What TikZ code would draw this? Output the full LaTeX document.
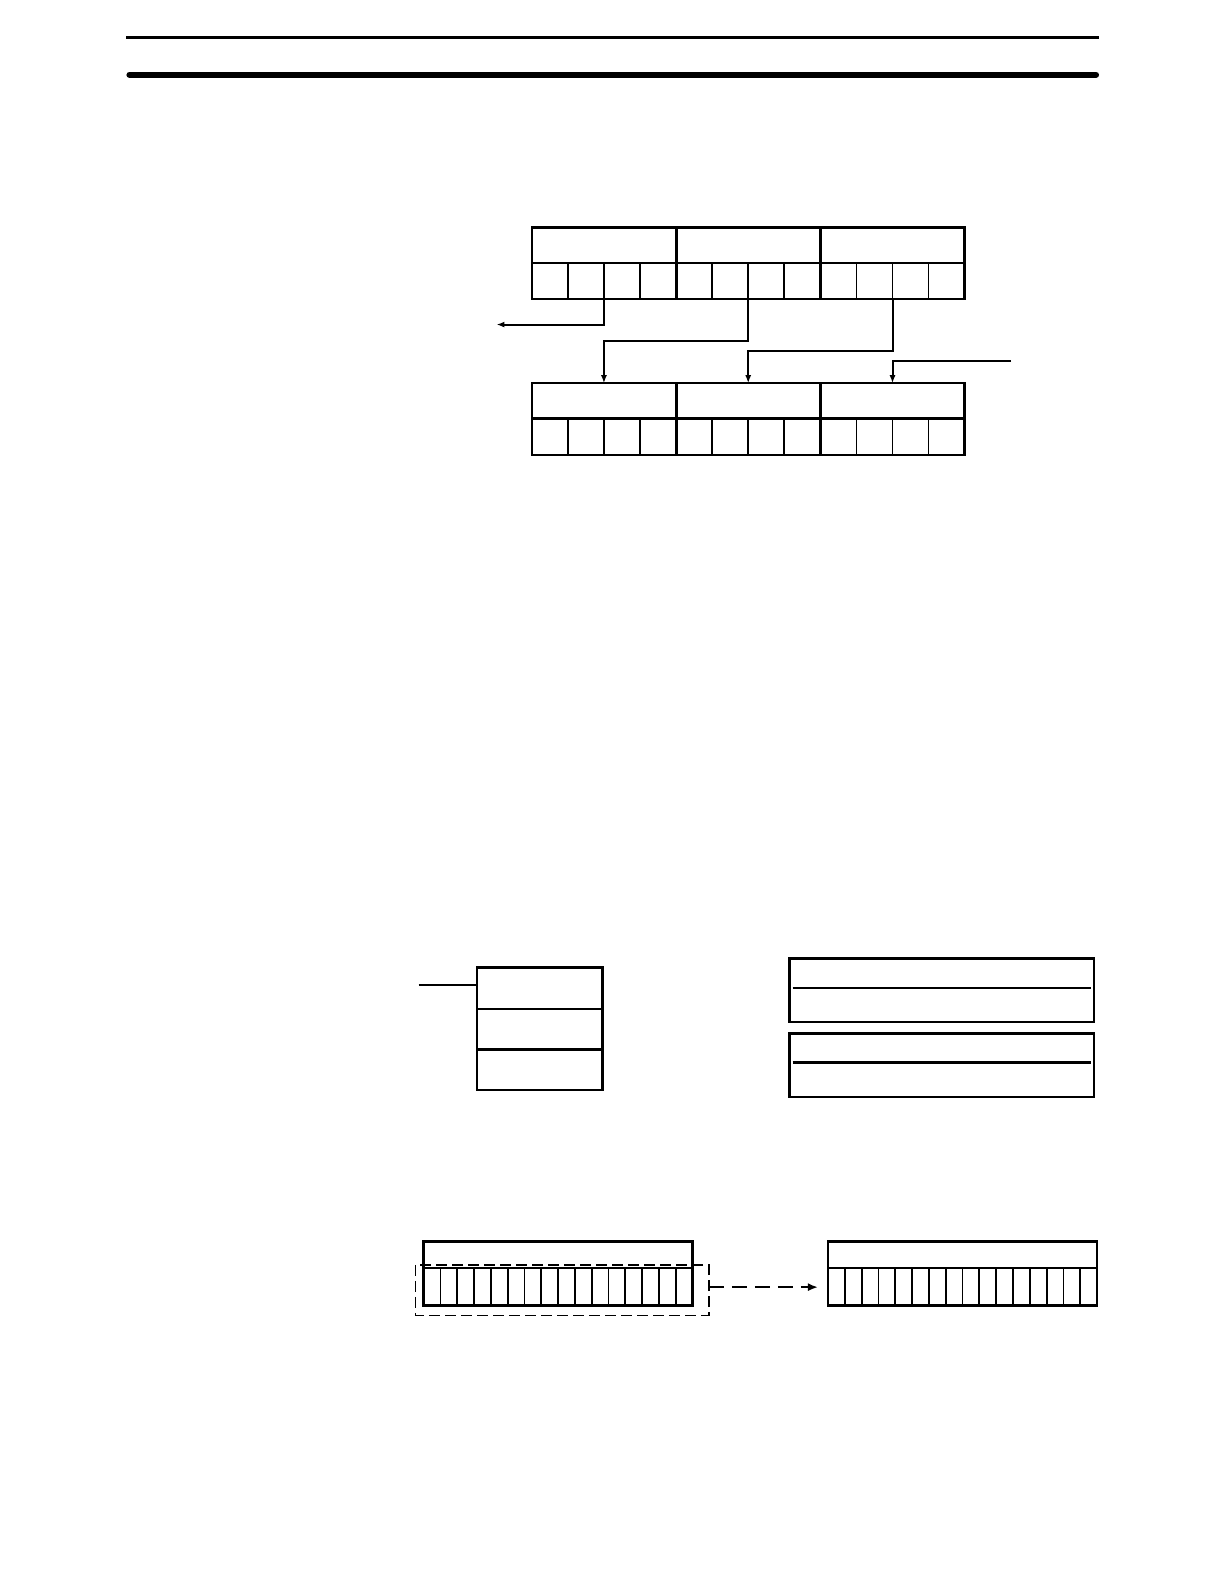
\documentclass[tikz,border=0pt]{standalone}
\usetikzlibrary{arrows.meta}
\definecolor{linkblue}{RGB}{25,25,150}
\begin{document}
\begin{tikzpicture}[x=1.0111pt,y=-1.0111pt,
  box/.style={line width=2.4pt},
  cellline/.style={line width=1.8pt},
  conn/.style={line width=2pt,-{Latex[length=8pt,width=6pt]}},
  dashbox/.style={line width=1.8pt,dash pattern=on 11pt off 5pt},
  dasharrow/.style={line width=2.6pt,dash pattern=on 15pt off 8pt,-{Latex[length=10pt,width=8pt]}}]
\useasboundingbox (0,0) rectangle (1210.56,1566.6);
\fill[white] (0,0) rectangle (1210.56,1566.6);
% header rules
\draw[line width=2.2pt] (125,37) -- (1087,37);
\draw[line width=6pt,line cap=round] (128,74) -- (1084,74);
% top registers
\foreach \y in {225,379} {
  \draw[box] (526,\y) rectangle (954,\y+71);
  \draw[box] (526,\y+35) -- (954,\y+35);
  \draw[box] (669,\y) -- (669,\y+71) (811.3,\y) -- (811.3,\y+71);
  \foreach \i in {1,2,3,5,6,7,9,10,11}
    \draw[cellline] (526+\i*35.67,\y+35) -- (526+\i*35.67,\y+71);
}
\coordinate (s1) at (597.3,296);
\coordinate (s2) at (740,296);
\coordinate (s3) at (882.7,296);
\coordinate (d1) at (597.3,379);
\coordinate (d2) at (740,379);
\coordinate (d3) at (882.7,379);
\coordinate (out) at (491,321);
\coordinate (in) at (1000,357);
\coordinate (k2) at (740,337);
\coordinate (k3) at (882.7,347);
\draw[conn] (s1) |- (out);
\draw[conn] (s2) -- (k2) -| (d1);
\draw[conn] (s3) -- (k3) -| (d2);
\draw[conn] (in) -| (d3);
% middle left stack
\draw[box] (472,957) rectangle (596,1078);
\draw[box] (472,998) -- (596,998) (472,1038) -- (596,1038);
\coordinate (stk) at (472,974);
\coordinate (stkin) at (414,974);
\draw[box] (stkin) -- (stk);
% middle right boxes
\foreach \y in {948,1022} {
  \draw[box] (781,\y) rectangle (1082,\y+63);
  \draw[box] (784,\y+29) -- (1079,\y+29);
}
% bottom registers
\foreach \x in {419,819} {
  \draw[box] (\x,1228) rectangle (\x+266,1291);
  \draw[box] (\x,1254) -- (\x+266,1254);
  \foreach \i in {1,...,15}
    \draw[cellline] (\x+\i*16.625,1254) -- (\x+\i*16.625,1291);
}
\draw[dashbox] (411,1251) rectangle (701,1301);
\coordinate (da) at (701,1273);
\coordinate (db) at (809,1273);
\draw[dasharrow] (da) -- (db);
% footer link rule
\draw[linkblue,line width=1.5pt] (125,1579) -- (267,1579);
\end{tikzpicture}
\end{document}
